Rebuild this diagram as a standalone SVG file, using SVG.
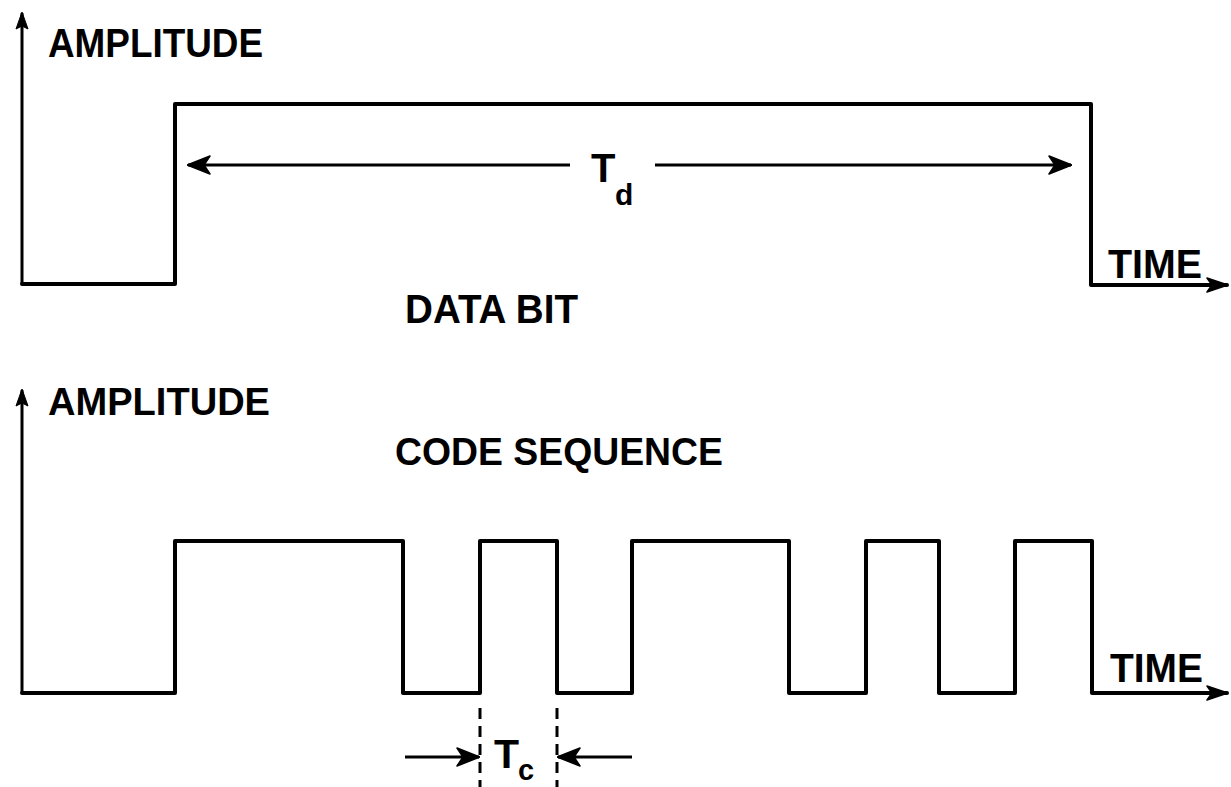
<svg xmlns="http://www.w3.org/2000/svg" width="1231" height="787" viewBox="0 0 1231 787">
<style>
.lbl{font-family:"Liberation Sans",Arial,sans-serif;font-weight:bold;fill:#000}
.wave{fill:none;stroke:#000;stroke-width:4;stroke-linejoin:round;stroke-linecap:round}
.axis{fill:none;stroke:#000;stroke-width:3}
.dim{fill:none;stroke:#000;stroke-width:3}
.dash{fill:none;stroke:#000;stroke-width:3;stroke-dasharray:11 7}
</style>
<defs>
<marker id="ah" viewBox="0 0 24 20" refX="23" refY="10" markerWidth="24" markerHeight="20" orient="auto" markerUnits="userSpaceOnUse">
<path d="M1,1 L24,10 L1,19 L7,10 Z" fill="#000" stroke="#000" stroke-width="1.5" stroke-linejoin="round"/>
</marker>
<marker id="aw" viewBox="0 0 22 16" refX="21" refY="8" markerWidth="22" markerHeight="16" orient="auto" markerUnits="userSpaceOnUse">
<path d="M1,1 L22,8 L1,15 L6,8 Z" fill="#000" stroke="#000" stroke-width="1.5" stroke-linejoin="round"/>
</marker>
<marker id="ax" viewBox="0 0 18 14" refX="17" refY="7" markerWidth="18" markerHeight="14" orient="auto" markerUnits="userSpaceOnUse">
<path d="M1,1 L18,7 L1,13 L4,7 Z" fill="#000" stroke="#000" stroke-width="1" stroke-linejoin="round"/>
</marker>
</defs>
<g id="top-plot">
<g id="top-axis">
<path class="axis" d="M22,284 V13" marker-end="url(#ax)"/>
<text class="lbl" x="48" y="57" font-size="40" textLength="215" lengthAdjust="spacingAndGlyphs">AMPLITUDE</text>
</g>
<g id="data-bit-wave">
<path class="wave" d="M22,284 H175 V104 H1091 V285 H1227" marker-end="url(#aw)"/>
<text class="lbl" x="1108" y="278" font-size="41" textLength="94" lengthAdjust="spacingAndGlyphs">TIME</text>
</g>
<g id="td-label">
<text class="lbl" x="591" y="182" font-size="40">T</text>
<text class="lbl" x="615" y="205" font-size="30">d</text>
</g>
<g id="data-bit-label">
<text class="lbl" x="405" y="323" font-size="41" textLength="173" lengthAdjust="spacingAndGlyphs">DATA BIT</text>
</g>
</g>
<g id="bottom-plot">
<g id="bottom-axis">
<path class="axis" d="M22,693 V390" marker-end="url(#ax)"/>
<text class="lbl" x="48" y="415" font-size="38" textLength="222" lengthAdjust="spacingAndGlyphs">AMPLITUDE</text>
</g>
<g id="code-seq-label">
<text class="lbl" x="395" y="465" font-size="39" textLength="328" lengthAdjust="spacingAndGlyphs">CODE SEQUENCE</text>
</g>
<g id="code-wave">
<path class="wave" d="M22,693 H175 V541 H403 V693 H480 V541 H557 V693 H632 V541 H789 V693 H866 V541 H939 V693 H1015 V541 H1092 V693 H1227" marker-end="url(#aw)"/>
<text class="lbl" x="1110" y="682" font-size="41" textLength="93" lengthAdjust="spacingAndGlyphs">TIME</text>
</g>
<g id="tc-label">
<text class="lbl" x="494" y="768" font-size="41">T</text>
<text class="lbl" x="518" y="780" font-size="29">c</text>
</g>
</g>
<g id="connectors">
<path class="dim" d="M570,165 H188" marker-end="url(#ah)"/>
<path class="dim" d="M655,165 H1071" marker-end="url(#ah)"/>
<path class="dash" d="M480,708 V787"/>
<path class="dash" d="M557,708 V787"/>
<path class="dim" d="M405,757 H479" marker-end="url(#ah)"/>
<path class="dim" d="M632,757 H558" marker-end="url(#ah)"/>
</g>
</svg>
